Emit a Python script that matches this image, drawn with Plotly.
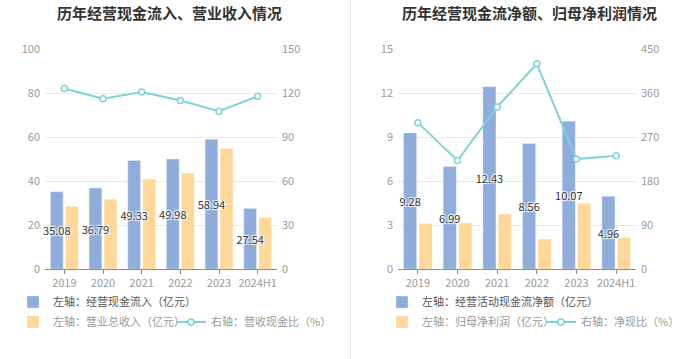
import plotly.graph_objects as go

W, H = 699, 359

years = ["2019", "2020", "2021", "2022", "2023", "2024H1"]

# Left chart
cash_inflow = [35.08, 36.79, 49.33, 49.98, 58.94, 27.54]
revenue = [28.5, 31.7, 40.9, 43.5, 54.8, 23.4]
cash_rev_ratio = [123.1, 116.1, 120.6, 114.9, 107.6, 117.7]

# Right chart
op_cash_net = [9.28, 6.99, 12.43, 8.56, 10.07, 4.96]
net_profit = [3.10, 3.15, 3.75, 2.04, 4.48, 2.14]
net_cash_ratio = [299.4, 221.9, 331.5, 419.6, 224.8, 231.8]

left_ticks = [0, 20, 40, 60, 80, 100]
left_ticks_r = [0, 30, 60, 90, 120, 150]
right_ticks = [0, 3, 6, 9, 12, 15]
right_ticks_r = [0, 90, 180, 270, 360, 450]

BLUE = "#8EADDB"
ORANGE = "#FFD899"
TEAL = "#7DD4D8"
FONT = "Noto Sans CJK SC"
SHADOW = "1px 1px 1px #fff, -1px -1px 1px #fff, 1px -1px 1px #fff, -1px 1px 1px #fff"

BAR_W = 0.33
BLUE_OFF = -0.36
ORANGE_OFF = 0.03


def px(x):
    return x / W


def py(y):
    return 1 - y / H


fig = go.Figure()

label_font = dict(size=11, color="#333", family=FONT, shadow=SHADOW)
marker_line = dict(color="rgba(255,255,255,0.6)", width=0.5)

# ---- left chart ----
fig.add_trace(go.Bar(
    x=years, y=revenue, name="左轴：营业总收入（亿元）",
    marker=dict(color=ORANGE, line=marker_line), xaxis="x", yaxis="y",
    width=BAR_W, offset=ORANGE_OFF, legend="legend2",
))
fig.add_trace(go.Bar(
    x=years, y=cash_inflow, name="左轴：经营现金流入（亿元）",
    marker=dict(color=BLUE, line=marker_line), xaxis="x", yaxis="y",
    width=BAR_W, offset=BLUE_OFF,
    text=[f"{v:.2f}" for v in cash_inflow], textposition="inside",
    insidetextanchor="middle", textangle=0, constraintext="none",
    textfont=label_font, insidetextfont=label_font, cliponaxis=False,
    legend="legend",
))
fig.add_trace(go.Scatter(
    x=years, y=cash_rev_ratio, name="右轴：营收现金比（%）",
    mode="lines+markers", line=dict(color=TEAL, width=2),
    marker=dict(symbol="circle", size=6, color="#fff", line=dict(color=TEAL, width=1.5)),
    xaxis="x", yaxis="y2", legend="legend3",
))

# ---- right chart ----
fig.add_trace(go.Bar(
    x=years, y=net_profit, name="左轴：归母净利润（亿元）",
    marker=dict(color=ORANGE, line=marker_line), xaxis="x2", yaxis="y3",
    width=BAR_W, offset=ORANGE_OFF, legend="legend5",
))
fig.add_trace(go.Bar(
    x=years, y=op_cash_net, name="左轴：经营活动现金流净额（亿元）",
    marker=dict(color=BLUE, line=marker_line), xaxis="x2", yaxis="y3",
    width=BAR_W, offset=BLUE_OFF,
    text=[f"{v:.2f}" for v in op_cash_net], textposition="inside",
    insidetextanchor="middle", textangle=0, constraintext="none",
    textfont=label_font, insidetextfont=label_font, cliponaxis=False,
    legend="legend4",
))
fig.add_trace(go.Scatter(
    x=years, y=net_cash_ratio, name="右轴：净现比（%）",
    mode="lines+markers", line=dict(color=TEAL, width=2),
    marker=dict(symbol="circle", size=6, color="#fff", line=dict(color=TEAL, width=1.5)),
    xaxis="x2", yaxis="y4", legend="legend6",
))

tickfont = dict(size=11, color="#999", family=FONT)
ydom = [py(269), py(49)]

xcommon = dict(type="category", showline=True, linecolor="#8c8c8c", linewidth=1,
               ticks="outside", ticklen=4, tickcolor="#8c8c8c", tickfont=tickfont,
               showgrid=False, zeroline=False, fixedrange=True, automargin=False)
ycommon = dict(showline=False, ticks="", tickfont=tickfont, zeroline=False,
               fixedrange=True, automargin=False, ticklabelstandoff=4)
grid = dict(showgrid=True, gridcolor="#E6E9F2", gridwidth=1)

fig.update_layout(
    width=W, height=H,
    margin=dict(l=0, r=0, t=0, b=0, autoexpand=False),
    paper_bgcolor="#fff", plot_bgcolor="#fff",
    font=dict(family=FONT, color="#666"),
    barmode="overlay",
    xaxis=dict(domain=[px(45), px(277)], anchor="y", **xcommon),
    xaxis2=dict(domain=[px(398), px(636)], anchor="y3", **xcommon),
    yaxis=dict(domain=ydom, anchor="x", range=[0, 100], tickvals=left_ticks, **ycommon, **grid),
    yaxis2=dict(domain=ydom, anchor="x", overlaying="y", side="right", range=[0, 150],
                tickvals=left_ticks_r, showgrid=False, **ycommon),
    yaxis3=dict(domain=ydom, anchor="x2", range=[0, 15], tickvals=right_ticks, **ycommon, **grid),
    yaxis4=dict(domain=ydom, anchor="x2", overlaying="y3", side="right", range=[0, 450],
                tickvals=right_ticks_r, showgrid=False, **ycommon),
    showlegend=True,
    shapes=[dict(type="line", xref="paper", yref="paper", x0=px(350.5), x1=px(350.5),
                 y0=0, y1=1, line=dict(color="#EEEEEE", width=1))],
    annotations=[
        dict(text="<b>历年经营现金流入、营业收入情况</b>", xref="paper", yref="paper",
             x=px(169), y=py(12), xanchor="center", yanchor="middle", showarrow=False,
             font=dict(size=15, color="#333", family=FONT)),
        dict(text="<b>历年经营现金流净额、归母净利润情况</b>", xref="paper", yref="paper",
             x=px(529), y=py(12), xanchor="center", yanchor="middle", showarrow=False,
             font=dict(size=15, color="#333", family=FONT)),
    ],
)

legend_base = dict(orientation="h", xanchor="left", yanchor="middle", bgcolor="rgba(0,0,0,0)",
                   borderwidth=0, itemclick=False, itemdoubleclick=False)


def leg(x, y, color):
    return dict(x=px(x), y=py(y), font=dict(size=11, color=color, family=FONT), **legend_base)


fig.update_layout(
    legend=leg(13, 302, "#555"),
    legend2=leg(13, 322, "#999"),
    legend3=leg(171, 322, "#999"),
    legend4=leg(382, 302, "#555"),
    legend5=leg(382, 322, "#999"),
    legend6=leg(541, 322, "#999"),
)

fig.write_html(
    "out.html",
    config={"displayModeBar": False},
    post_script="document.body.style.margin='0px';document.body.style.overflow='hidden';",
)
